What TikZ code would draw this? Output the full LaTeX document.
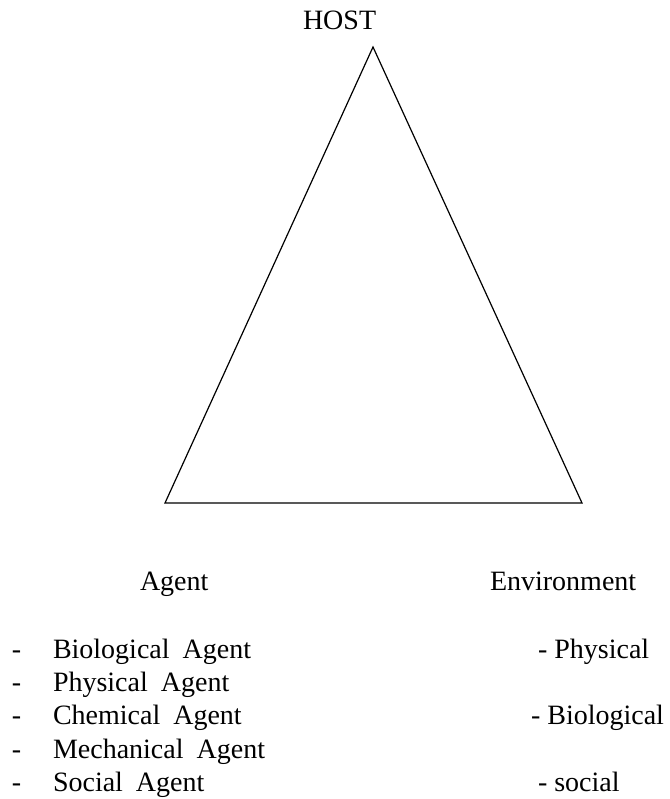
\documentclass[tikz,border=0pt]{standalone}
\usepackage{fontspec}
\setmainfont{Liberation Serif}
\newcommand{\wsp}{\hspace{13pt}}
\begin{document}
\begin{tikzpicture}[x=1pt,y=-1pt,
  lbl/.style={anchor=base west,inner sep=0pt,outer sep=0pt,font=\fontsize{28}{34}\selectfont},
  tri/.style={line width=1.2pt,line join=miter}]
\useasboundingbox (0,0) rectangle (669,799);
% title
\node[lbl] (host) at (303,30) {HOST};
% triangle
\coordinate (apex) at (373,47);
\coordinate (bl) at (165,503);
\coordinate (br) at (582,503);
\draw[tri] (apex) -- (bl) -- (br) -- cycle;
% column heads
\node[lbl] (agent) at (140,590) {Agent};
\node[lbl] (env) at (490,590) {Environment};
% agent list
\node[lbl] (d1) at (12,658) {-};
\node[lbl] (d2) at (12,691) {-};
\node[lbl] (d3) at (12,724) {-};
\node[lbl] (d4) at (12,758) {-};
\node[lbl] (d5) at (12,791) {-};
\node[lbl] (a1) at (53,658) {Biological\wsp Agent};
\node[lbl] (a2) at (53,691) {Physical\wsp Agent};
\node[lbl] (a3) at (53,724) {Chemical\wsp Agent};
\node[lbl] (a4) at (53,758) {Mechanical\wsp Agent};
\node[lbl] (a5) at (53,791) {Social\wsp Agent};
% environment list
\node[lbl] (e1) at (538,658) {- Physical};
\node[lbl] (e2) at (531,724) {- Biological};
\node[lbl] (e3) at (538,791) {- social};
\end{tikzpicture}
\end{document}
